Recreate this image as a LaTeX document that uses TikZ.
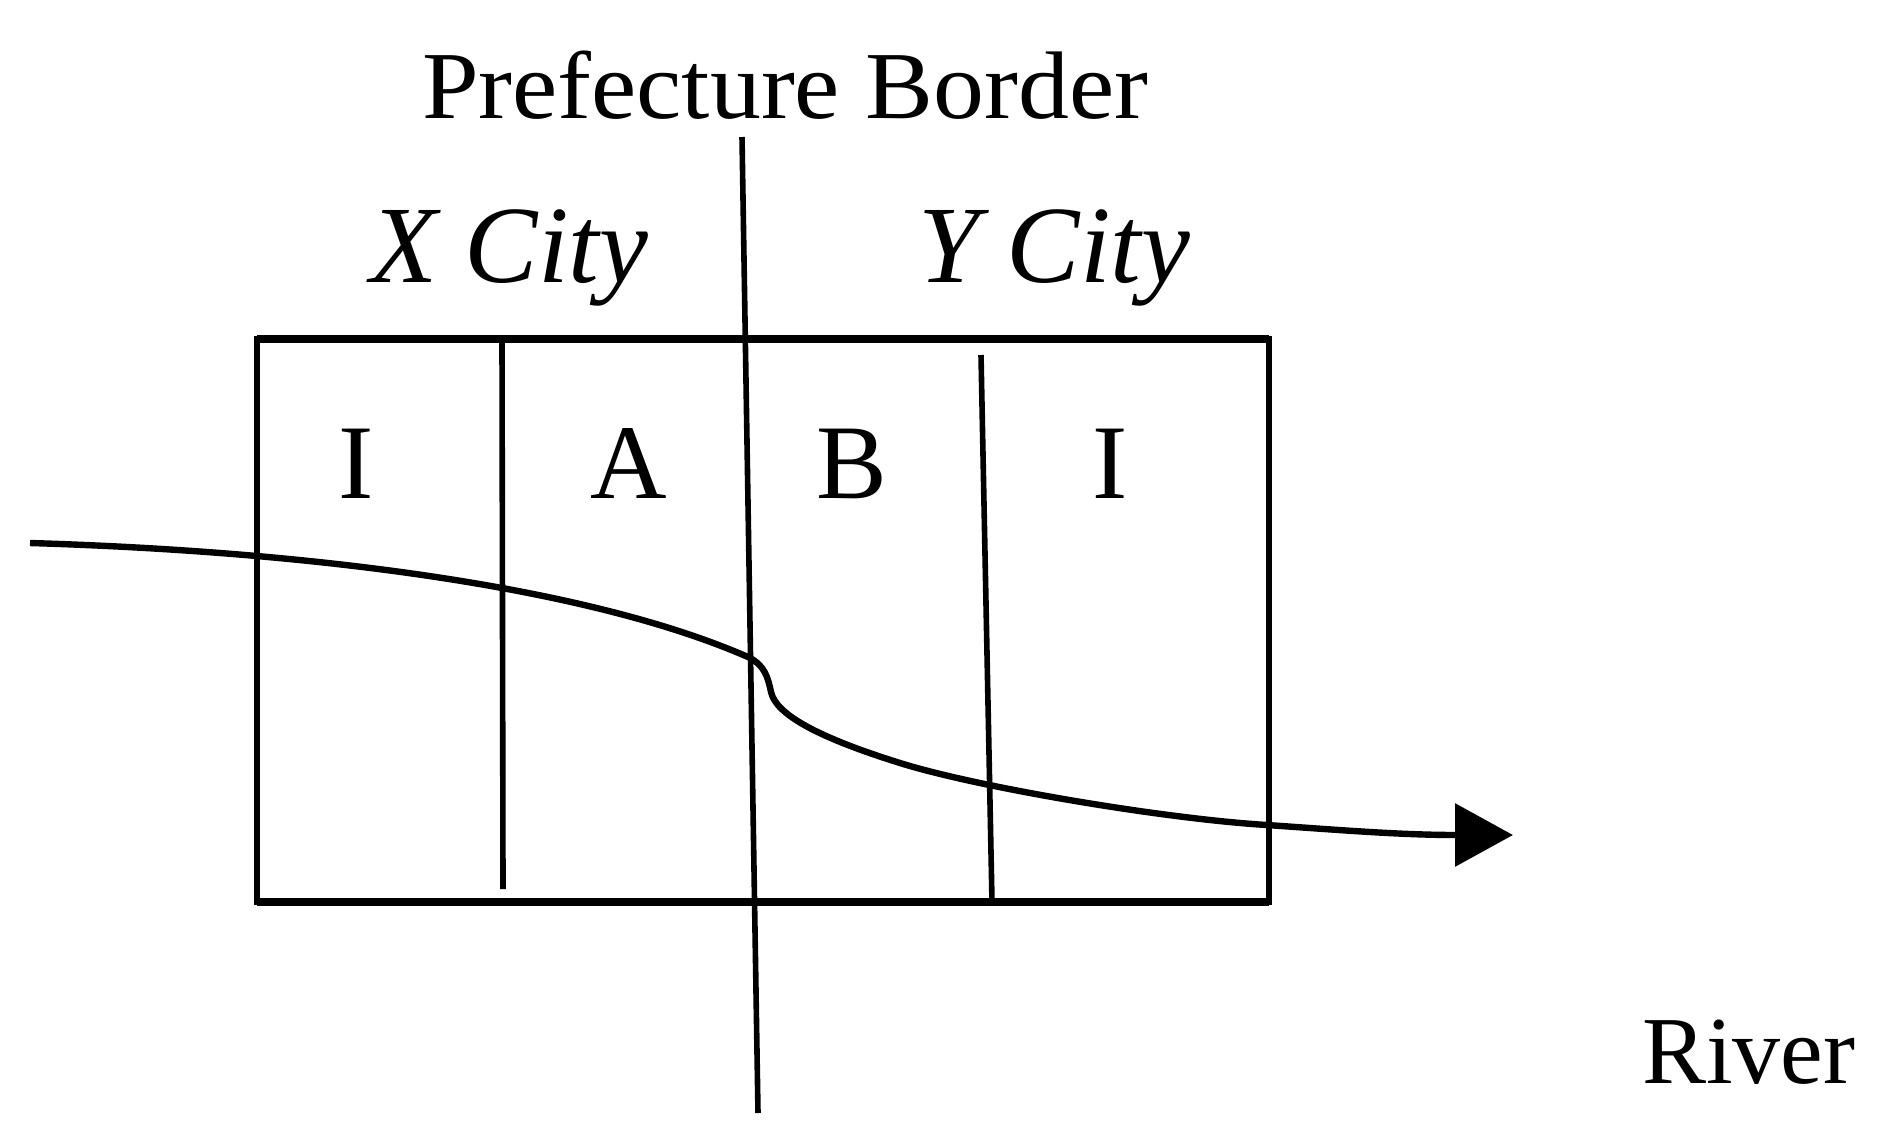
\documentclass[tikz,border=0pt]{standalone}
\usepackage{fontspec}
\setmainfont{Liberation Serif}
\usetikzlibrary{arrows.meta}
\tikzset{
  lbl/.style={inner sep=0pt, outer sep=0pt, font=\fontsize{48}{56}\selectfont},
  city/.style={inner sep=0pt, outer sep=0pt, font=\fontsize{55}{64}\selectfont\itshape},
  zone/.style={inner sep=0pt, outer sep=0pt, anchor=base, font=\fontsize{53}{62}\selectfont},
  divider/.style={line width=2.8pt, black},
  riverline/.style={line width=3.2pt, black, -{Triangle[length=29pt, width=31pt]}}
}
\begin{document}
\begin{tikzpicture}[x=0.5pt, y=-0.5pt]
\useasboundingbox (0,0) rectangle (1891,1137);
% labels
\node[lbl, anchor=base west] (pb) at (422,118) {\scalebox{1.06}[1]{Prefecture Border}};
\node[city, anchor=base west] (xc) at (370,282) {X City};
\node[city, anchor=base west] (yc) at (918,282) {Y City};
\node[zone] (z1) at (356,498) {I};
\node[zone] (z2) at (629,498) {A};
\node[zone] (z3) at (852,498) {B};
\node[zone] (z4) at (1110,498) {I};
\node[lbl, anchor=base west] (rv) at (1642,1083) {River};
% frame
\coordinate (tl) at (257,339);
\coordinate (br) at (1269,902);
\draw[line width=2.8pt] (tl) rectangle (br);
\draw[line width=4pt] (257,339) -- (1269,339);
\draw[line width=4pt] (257,902) -- (1269,902);
% dividers
\coordinate (d1t) at (502,340);
\coordinate (d1b) at (503,889);
\coordinate (d2t) at (981,355);
\coordinate (d2b) at (992,902);
\draw[divider] (d1t) -- (d1b);
\draw[divider] (d2t) -- (d2b);
% prefecture border
\coordinate (pbt) at (742,137);
\coordinate (pbb) at (758,1113);
\draw[divider] (pbt) -- (pbb);
% river
\coordinate (r0) at (30,543);
\coordinate (r1) at (748,657);
\coordinate (r2) at (771,692);
\coordinate (r3) at (900,763);
\coordinate (r4) at (1267,825);
\coordinate (r5) at (1513,835);
\draw[riverline] (r0) .. controls (330,552) and (595,590) .. (r1)
  .. controls (765,665) and (768,678) .. (r2)
  .. controls (776,715) and (820,738) .. (r3)
  .. controls (980,788) and (1167,819) .. (r4)
  .. controls (1340,830) and (1400,835) .. (r5);
\end{tikzpicture}
\end{document}
